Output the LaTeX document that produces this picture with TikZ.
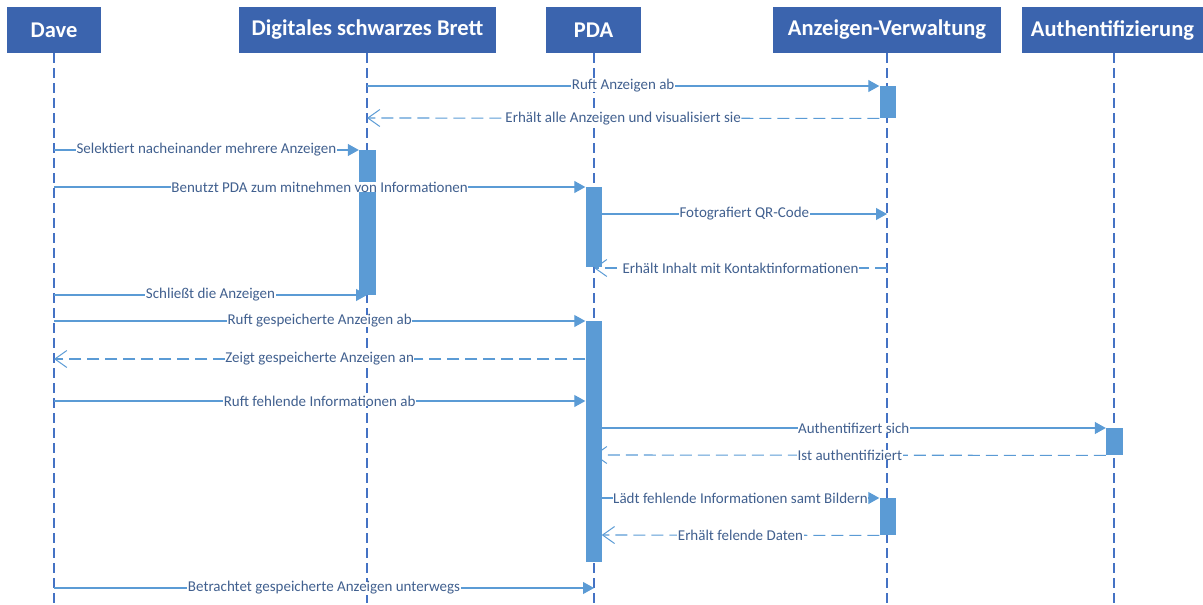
\documentclass[tikz,border=0pt]{standalone}
\usepackage{fontspec}
\setmainfont{Carlito}
\usetikzlibrary{arrows.meta}
\definecolor{hdr}{HTML}{3B64AE}
\definecolor{life}{HTML}{4472C4}
\definecolor{msg}{HTML}{5B9BD5}
\definecolor{lbl}{HTML}{41608F}
\tikzset{
  hdrbox/.style={fill=hdr, text=white, font=\bfseries\fontsize{22.5}{25}\selectfont, minimum height=46pt, inner sep=0pt},
  lifeline/.style={draw=life, line width=1.4pt, dash pattern=on 10pt off 5pt},
  actbar/.style={fill=msg, draw=none, minimum width=16pt, inner sep=0pt, anchor=north},
  callmsg/.style={draw=msg, line width=1.1pt, -{Triangle[length=11pt,width=12pt]}},
  replymsg/.style={draw=msg, line width=1.1pt, dash pattern=on 12pt off 6pt, -{Straight Barb[length=12pt,width=17pt,line width=1pt]}},
  lab/.style={midway, fill=white, text=lbl, font=\fontsize{15}{16}\selectfont, inner xsep=0.5pt, inner ysep=0pt}
}
\begin{document}
\begin{tikzpicture}[x=1pt,y=-1pt]
\useasboundingbox (0,0) rectangle (1203,605);
% headers
\node[hdrbox, minimum width=94pt]  (dave)  at (54,30)     {Dave};
\node[hdrbox, minimum width=257pt] (brett) at (367.5,30)  {Digitales schwarzes Brett};
\node[hdrbox, minimum width=95pt]  (pda)   at (593.5,30)  {PDA};
\node[hdrbox, minimum width=228pt] (av)    at (887,30)    {Anzeigen-Verwaltung};
\node[hdrbox, minimum width=181pt] (auth)  at (1112.5,30) {Authentifizierung};
% lifeline ends
\coordinate (daveE)  at (54,605);
\coordinate (brettE) at (367,605);
\coordinate (pdaE)   at (594,605);
\coordinate (avE)    at (887,605);
\coordinate (authE)  at (1114,605);
\draw[lifeline] (54,53) -- (daveE);
\draw[lifeline] (367,53) -- (brettE);
\draw[lifeline] (594,53) -- (pdaE);
\draw[lifeline] (887,53) -- (avE);
\draw[lifeline] (1114,53) -- (authE);
% activation bars
\node[actbar, minimum height=32pt]  (av1)   at (887.5,86)  {};
\node[actbar, minimum height=145pt, minimum width=17pt] (br1) at (367.5,150) {};
\node[actbar, minimum height=80pt]  (pda1)  at (593.5,187) {};
\node[actbar, minimum height=241pt] (pda2)  at (593.5,321) {};
\node[actbar, minimum height=27pt, minimum width=17pt]  (auth1) at (1114.5,428) {};
\node[actbar, minimum height=37pt]  (av2)   at (887.5,498) {};
% messages
\draw[callmsg] (brettE |- 0,86) -- (av1.north west) node[lab] {Ruft Anzeigen ab};
\draw[replymsg] (av1.south west) -- (brettE |- 0,118) node[lab] {Erhält alle Anzeigen und visualisiert sie};
\draw[callmsg] (daveE |- 0,150) -- (br1.north west) node[lab] {Selektiert nacheinander mehrere Anzeigen};
\draw[callmsg] (daveE |- 0,187) -- (pda1.north west) node[lab] {Benutzt PDA zum mitnehmen von Informationen};
\draw[callmsg] (pda1.east |- 0,214) -- (avE |- 0,214) node[lab] {Fotografiert QR-Code};
\draw[replymsg] (avE |- 0,268) -- (pdaE |- 0,268) node[lab] {Erhält Inhalt mit Kontaktinformationen};
\draw[callmsg] (daveE |- 0,295) -- (brettE |- 0,295) node[lab] {Schließt die Anzeigen};
\draw[callmsg] (daveE |- 0,321) -- (pda2.north west) node[lab] {Ruft gespeicherte Anzeigen ab};
\draw[replymsg] (pda2.west |- 0,359) -- (daveE |- 0,359) node[lab] {Zeigt gespeicherte Anzeigen an};
\draw[callmsg] (daveE |- 0,401) -- (pda2.west |- 0,401) node[lab] {Ruft fehlende Informationen ab};
\draw[callmsg] (pda2.east |- 0,428) -- (auth1.north west) node[lab] {Authentifizert sich};
\draw[replymsg] (auth1.south west) -- (pdaE |- 0,455) node[lab] {Ist authentifiziert};
\draw[callmsg] (pda2.east |- 0,498) -- (av2.north west) node[lab] {Lädt fehlende Informationen samt Bildern};
\draw[replymsg] (av2.south west) -- (pda2.east |- 0,535) node[lab] {Erhält felende Daten};
\draw[callmsg] (daveE |- 0,588) -- (pdaE |- 0,588) node[lab] {Betrachtet gespeicherte Anzeigen unterwegs};
\end{tikzpicture}
\end{document}
